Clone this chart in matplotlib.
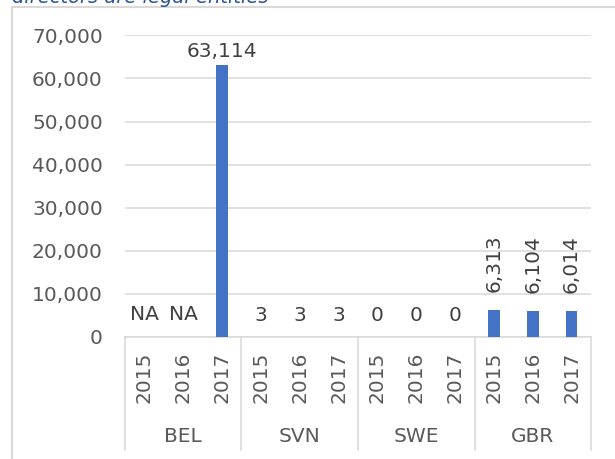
import numpy as np
import matplotlib
matplotlib.use("Agg")
import matplotlib.pyplot as plt
from matplotlib.transforms import blended_transform_factory
from matplotlib.lines import Line2D

countries = ["BEL", "SVN", "SWE", "GBR"]
years = ["2015", "2016", "2017"]
bel = [np.nan, np.nan, 63114]
svn = [3, 3, 3]
swe = [0, 0, 0]
gbr = [6313, 6104, 6014]
yticks = [0, 10000, 20000, 30000, 40000, 50000, 60000, 70000]
title_text = "directors are legal entities"

series = [bel, svn, swe, gbr]
values = np.array([v for s in series for v in s], dtype=float)
n = len(values)
x = np.arange(n)

W, H = 615, 459
fig = plt.figure(figsize=(W / 100, H / 100), dpi=100)
plt.rcParams['font.family'] = ['DejaVu Sans']
FS = 14.5
axc = '#595959'
lblc = '#404040'
gridc = '#d9d9d9'
barc = '#4472C4'

def fx(px):
    return px / W

def fy(py):
    return 1 - py / H

left, right, top, bottom = 125, 591, 35.3, 337
ax = fig.add_axes([fx(left), fy(bottom), fx(right) - fx(left), fy(top) - fy(bottom)])

ax.bar(x, np.nan_to_num(values), width=0.3, color=barc, zorder=3)
ax.set_xlim(-0.5, n - 0.5)
ax.set_ylim(0, 70000)
ax.set_yticks(yticks)
ax.set_yticklabels([f"{t:,}" for t in yticks], fontsize=FS, color=axc)
ax.tick_params(axis='y', length=0, pad=16)
ax.set_xticks([])
ax.grid(axis='y', color=gridc, linewidth=1.1, zorder=0)
for s in ['top', 'right', 'left']:
    ax.spines[s].set_visible(False)
ax.spines['bottom'].set_color(gridc)
ax.spines['bottom'].set_linewidth(1.1)

# data labels
for xi, v in zip(x, values):
    if np.isnan(v):
        ax.annotate("NA", (xi, 0), xytext=(0, 9), textcoords='offset points',
                    ha='center', va='bottom', fontsize=FS, color=lblc)
    elif v > 20000:
        ax.annotate(f"{int(v):,}", (xi, v), xytext=(0, 3), textcoords='offset points',
                    ha='center', va='bottom', fontsize=FS, color=lblc)
    elif v > 1000:
        ax.annotate(f"{int(v):,}", (xi, v), xytext=(0, 13), textcoords='offset points',
                    ha='center', va='bottom', rotation=90, fontsize=FS, color=lblc)
    else:
        ax.annotate(f"{int(v):,}", (xi, v), xytext=(0, 8.5), textcoords='offset points',
                    ha='center', va='bottom', fontsize=FS, color=lblc)

# category axis (two levels)
tr = blended_transform_factory(ax.transData, fig.transFigure)
for i in range(n):
    ax.text(x[i], fy(377), years[i % 3], transform=tr, rotation=90,
            ha='center', va='center', fontsize=FS, color=axc, clip_on=False)
for g, c in enumerate(countries):
    ax.text(g * 3 + 1, fy(436), c, transform=tr, ha='center', va='center',
            fontsize=FS, color=axc, clip_on=False)
for g in range(len(countries) + 1):
    xb = g * 3 - 0.5
    fig.add_artist(Line2D([xb, xb], [fy(bottom), fy(450)], transform=tr,
                          color=gridc, linewidth=1.1))

# chart frame
fig.add_artist(Line2D([fx(12), fx(12)], [fy(7), 0], transform=fig.transFigure,
                      color=gridc, linewidth=1.5))
fig.add_artist(Line2D([fx(12), 1], [fy(7), fy(7)], transform=fig.transFigure,
                      color=gridc, linewidth=1.5))

# title (cut off at the top edge, as in the reference)
fig.text(fx(12), fy(3), title_text, ha='left', va='baseline', fontsize=14,
         style='italic', color='#2F5496')

fig.savefig("out.png", dpi=100)
